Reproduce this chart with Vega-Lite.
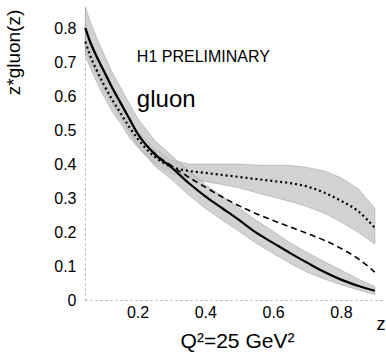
{
  "$schema": "https://vega.github.io/schema/vega-lite/v6.json",
  "autosize": "none",
  "width": 300,
  "height": 295,
  "padding": {"left": 85, "top": 5, "right": 1, "bottom": 55},
  "config": {"view": {"stroke": null}, "font": "Liberation Sans", "axis": {"labelOverlap": false, "labelFlush": false}},
  "datasets": {
    "curves": [
      {"x": 0.046, "solid": 0.80, "dashed": 0.80, "dotted": 0.76, "lo1": 0.74, "hi1": 0.862, "lo2": 0.72, "hi2": 0.81},
      {"x": 0.06, "solid": 0.76, "dashed": 0.76, "dotted": 0.72, "lo1": 0.705, "hi1": 0.82, "lo2": 0.685, "hi2": 0.77},
      {"x": 0.08, "solid": 0.715, "dashed": 0.715, "dotted": 0.675, "lo1": 0.665, "hi1": 0.77, "lo2": 0.64, "hi2": 0.72},
      {"x": 0.1, "solid": 0.675, "dashed": 0.675, "dotted": 0.635, "lo1": 0.625, "hi1": 0.725, "lo2": 0.60, "hi2": 0.675},
      {"x": 0.125, "solid": 0.625, "dashed": 0.625, "dotted": 0.59, "lo1": 0.58, "hi1": 0.67, "lo2": 0.555, "hi2": 0.625},
      {"x": 0.15, "solid": 0.58, "dashed": 0.58, "dotted": 0.55, "lo1": 0.54, "hi1": 0.625, "lo2": 0.52, "hi2": 0.58},
      {"x": 0.175, "solid": 0.535, "dashed": 0.535, "dotted": 0.51, "lo1": 0.497, "hi1": 0.58, "lo2": 0.48, "hi2": 0.54},
      {"x": 0.2, "solid": 0.49, "dashed": 0.49, "dotted": 0.475, "lo1": 0.455, "hi1": 0.535, "lo2": 0.45, "hi2": 0.50},
      {"x": 0.25, "solid": 0.43, "dashed": 0.432, "dotted": 0.422, "lo1": 0.395, "hi1": 0.47, "lo2": 0.40, "hi2": 0.445},
      {"x": 0.3, "solid": 0.39, "dashed": 0.395, "dotted": 0.392, "lo1": 0.355, "hi1": 0.425, "lo2": 0.372, "hi2": 0.412},
      {"x": 0.35, "solid": 0.345, "dashed": 0.362, "dotted": 0.38, "lo1": 0.31, "hi1": 0.38, "lo2": 0.358, "hi2": 0.40},
      {"x": 0.4, "solid": 0.305, "dashed": 0.332, "dotted": 0.374, "lo1": 0.27, "hi1": 0.34, "lo2": 0.348, "hi2": 0.40},
      {"x": 0.45, "solid": 0.27, "dashed": 0.303, "dotted": 0.368, "lo1": 0.235, "hi1": 0.305, "lo2": 0.34, "hi2": 0.40},
      {"x": 0.5, "solid": 0.235, "dashed": 0.277, "dotted": 0.362, "lo1": 0.202, "hi1": 0.27, "lo2": 0.33, "hi2": 0.40},
      {"x": 0.55, "solid": 0.198, "dashed": 0.254, "dotted": 0.356, "lo1": 0.167, "hi1": 0.235, "lo2": 0.316, "hi2": 0.397},
      {"x": 0.6, "solid": 0.168, "dashed": 0.234, "dotted": 0.35, "lo1": 0.137, "hi1": 0.202, "lo2": 0.303, "hi2": 0.396},
      {"x": 0.65, "solid": 0.138, "dashed": 0.215, "dotted": 0.344, "lo1": 0.108, "hi1": 0.168, "lo2": 0.29, "hi2": 0.396},
      {"x": 0.7, "solid": 0.11, "dashed": 0.196, "dotted": 0.334, "lo1": 0.082, "hi1": 0.14, "lo2": 0.275, "hi2": 0.39},
      {"x": 0.75, "solid": 0.083, "dashed": 0.176, "dotted": 0.316, "lo1": 0.062, "hi1": 0.113, "lo2": 0.256, "hi2": 0.38},
      {"x": 0.8, "solid": 0.06, "dashed": 0.152, "dotted": 0.292, "lo1": 0.045, "hi1": 0.088, "lo2": 0.23, "hi2": 0.36},
      {"x": 0.85, "solid": 0.042, "dashed": 0.122, "dotted": 0.262, "lo1": 0.03, "hi1": 0.062, "lo2": 0.2, "hi2": 0.328},
      {"x": 0.9, "solid": 0.027, "dashed": 0.082, "dotted": 0.212, "lo1": 0.016, "hi1": 0.04, "lo2": 0.165, "hi2": 0.27}
    ],
    "labels": [
      {"x": 0.198, "y": 0.70, "text": "H1 PRELIMINARY", "size": 16},
      {"x": 0.198, "y": 0.568, "text": "gluon", "size": 24},
      {"x": 0.905, "y": -0.088, "text": "z", "size": 18}
    ]
  },
  "encoding": {
    "x": {
      "field": "x",
      "type": "quantitative",
      "scale": {"domain": [0.045, 0.93], "nice": false, "zero": false},
      "axis": {
        "values": [0.2, 0.4, 0.6, 0.8],
        "format": ".1~f",
        "title": "Q²=25 GeV²",
        "titleFontSize": 21,
        "titleFontWeight": "normal",
        "titleColor": "#000",
        "titleX": 152,
        "titleY": 47,
        "titleBaseline": "alphabetic",
        "titleAlign": "center",
        "labelFontSize": 16,
        "labelColor": "#000",
        "labelPadding": 4,
        "labelOverlap": false,
        "domainColor": "#aaa",
        "domainDash": [2, 3],
        "ticks": false,
        "grid": false
      }
    },
    "y": {
      "field": "lo2",
      "type": "quantitative",
      "scale": {"domain": [0, 0.868], "nice": false},
      "axis": {
        "values": [0, 0.1, 0.2, 0.3, 0.4, 0.5, 0.6, 0.7, 0.8],
        "format": ".1~f",
        "title": "z*gluon(z)",
        "titleFontSize": 19,
        "titleFontWeight": "normal",
        "titleColor": "#000",
        "titleX": -66,
        "titleY": 47,
        "titleAngle": -90,
        "titleBaseline": "alphabetic",
        "titleAlign": "center",
        "labelFontSize": 16,
        "labelColor": "#000",
        "labelPadding": 9,
        "labelOverlap": false,
        "domainColor": "#aaa",
        "domainDash": [2, 3],
        "ticks": false,
        "grid": false
      }
    }
  },
  "layer": [
    {
      "data": {"name": "curves"},
      "mark": {"type": "area", "color": "#c4c4c4", "opacity": 0.75, "stroke": "#888", "strokeWidth": 0.6},
      "encoding": {
        "y2": {"field": "hi2"}
      }
    },
    {
      "data": {"name": "curves"},
      "mark": {"type": "area", "color": "#c4c4c4", "opacity": 0.75, "stroke": "#888", "strokeWidth": 0.6},
      "encoding": {
        "y": {"field": "lo1", "type": "quantitative"},
        "y2": {"field": "hi1"}
      }
    },
    {
      "data": {"name": "curves"},
      "mark": {"type": "line", "color": "#000", "strokeWidth": 1.6, "strokeDash": [6, 4], "interpolate": "monotone"},
      "encoding": {"y": {"field": "dashed", "type": "quantitative"}}
    },
    {
      "data": {"name": "curves"},
      "mark": {"type": "line", "color": "#000", "strokeWidth": 2.2, "strokeDash": [2, 3], "interpolate": "monotone"},
      "encoding": {"y": {"field": "dotted", "type": "quantitative"}}
    },
    {
      "data": {"name": "curves"},
      "mark": {"type": "line", "color": "#000", "strokeWidth": 2.2, "interpolate": "monotone"},
      "encoding": {"y": {"field": "solid", "type": "quantitative"}}
    },
    {
      "data": {"name": "labels"},
      "mark": {"type": "text", "align": "left", "baseline": "alphabetic", "color": "#000"},
      "encoding": {
        "y": {"field": "y", "type": "quantitative"},
        "text": {"field": "text"},
        "size": {"field": "size", "type": "quantitative", "scale": null}
      }
    }
  ]
}
